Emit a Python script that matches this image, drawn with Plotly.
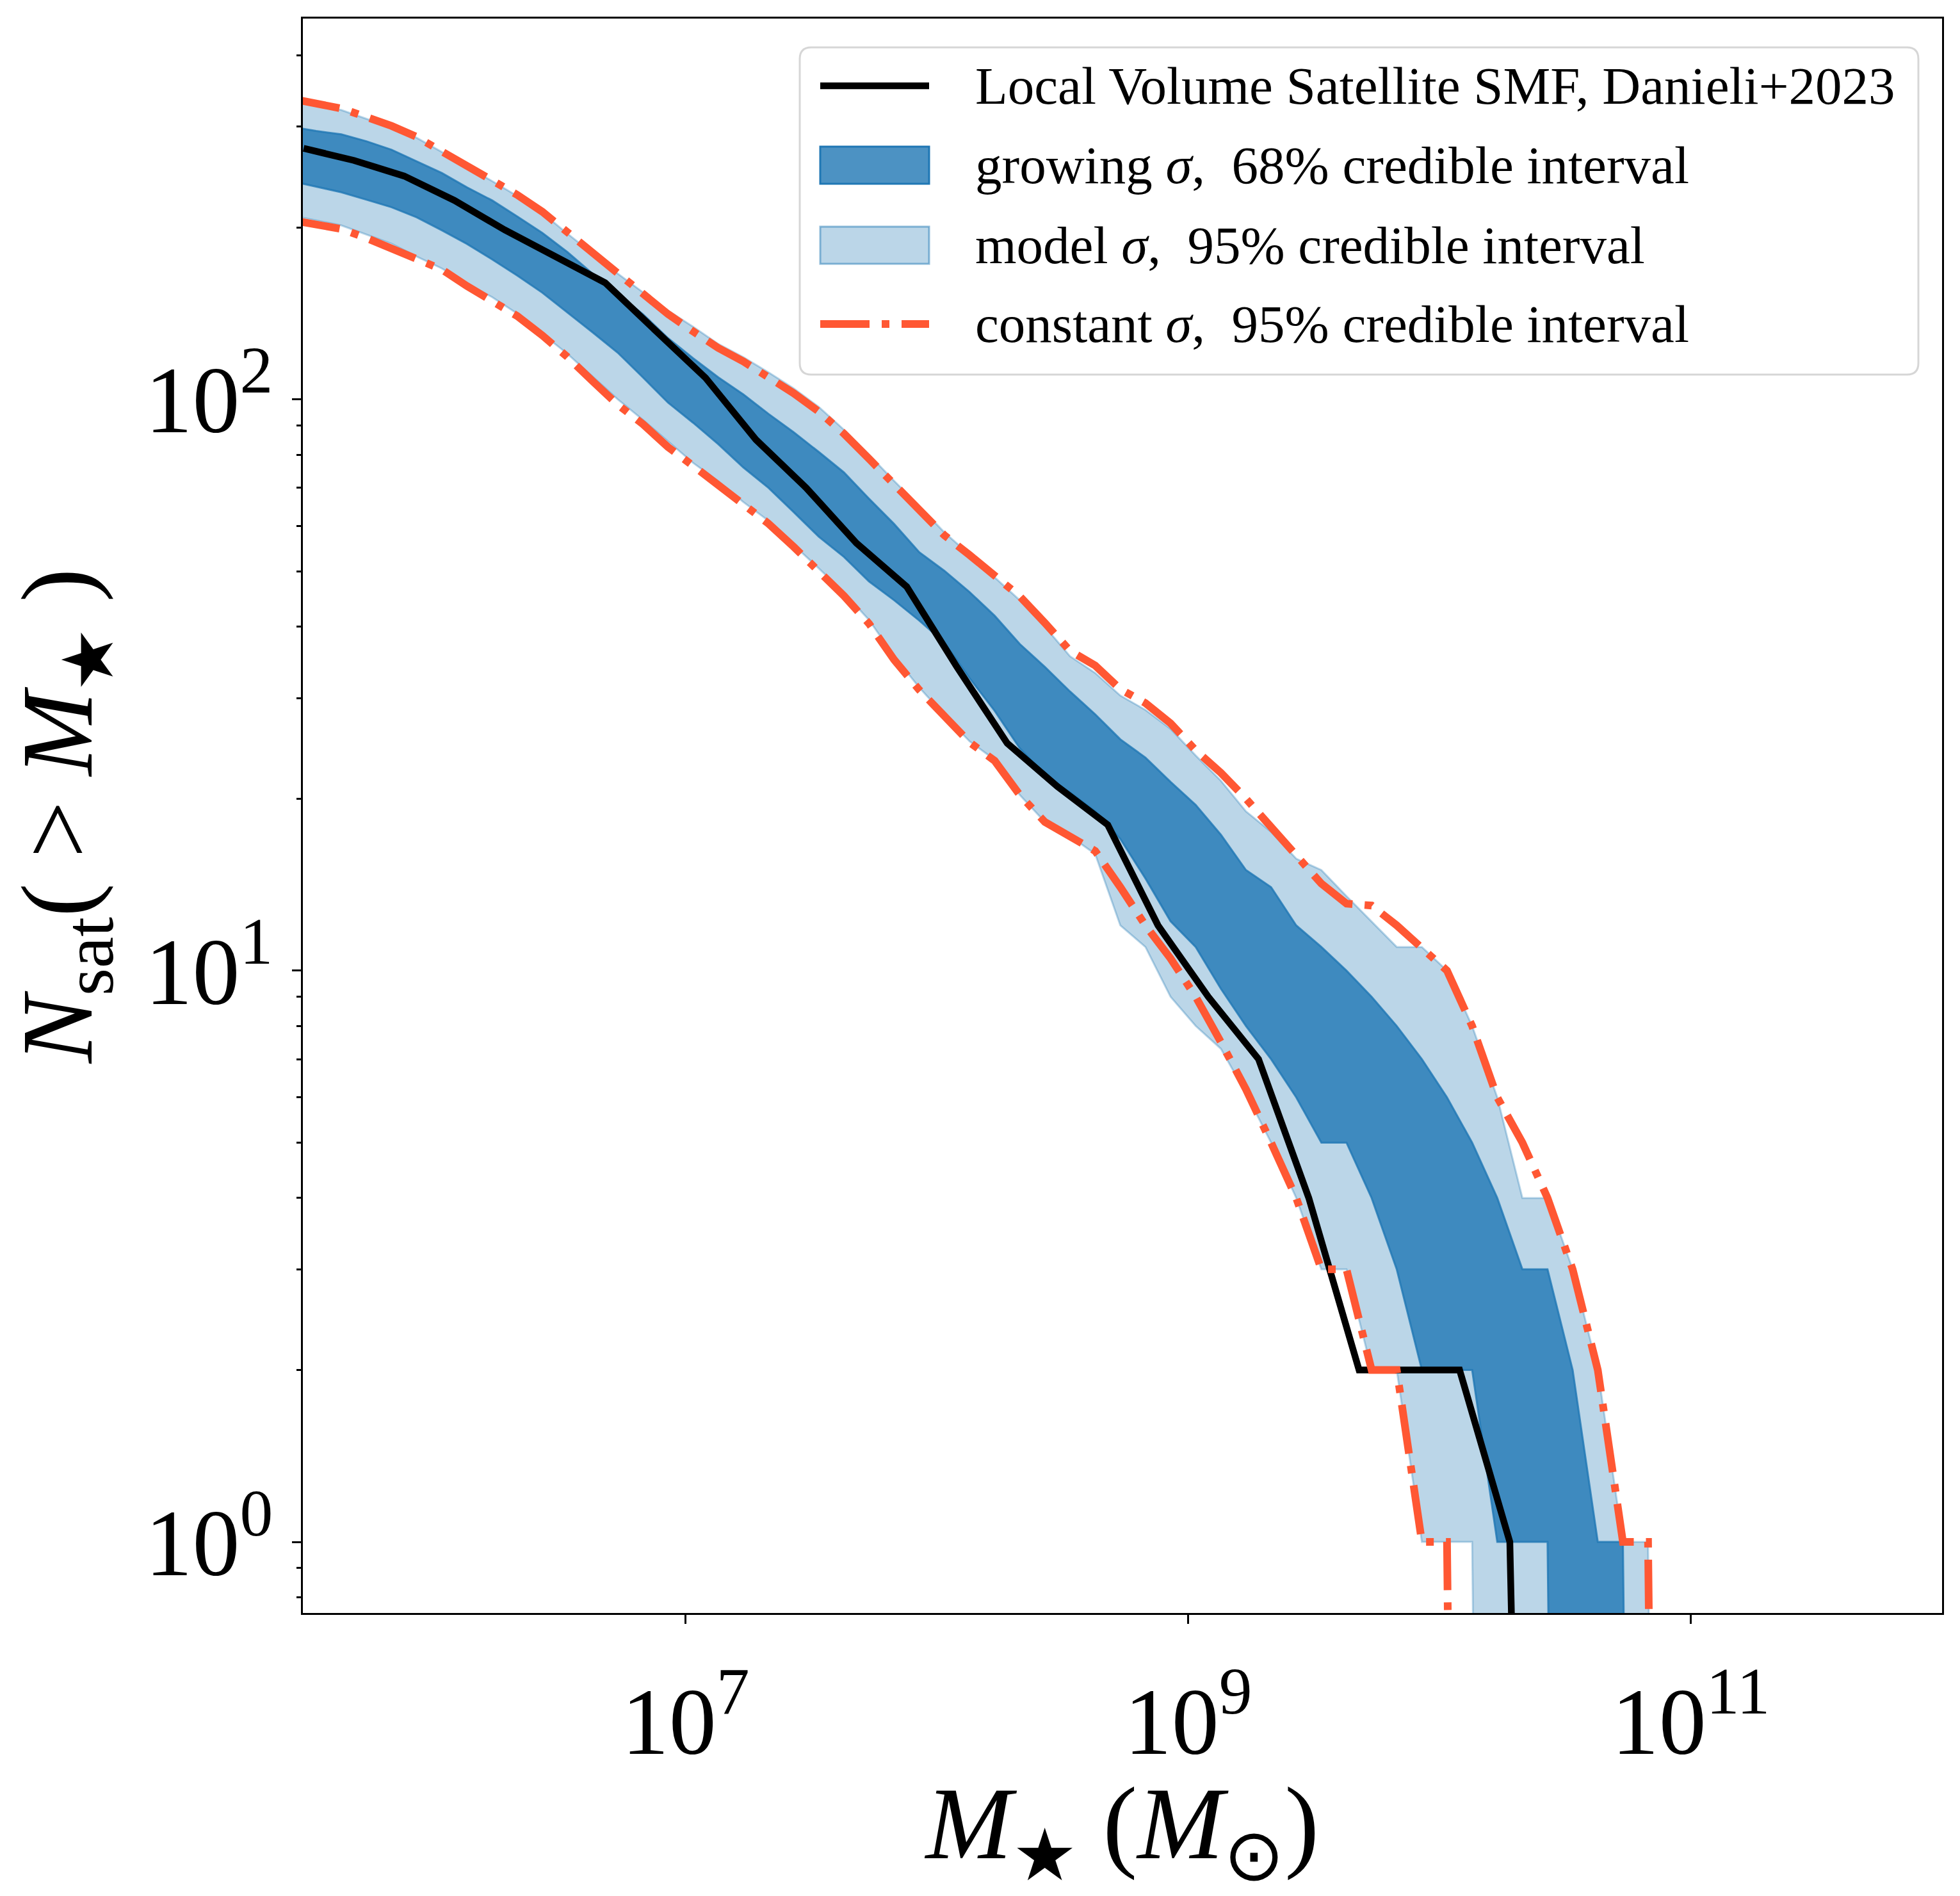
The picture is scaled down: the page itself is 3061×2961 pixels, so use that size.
import numpy as np
import plotly.graph_objects as go

# ---- data ---------------------------------------------------------------
# log10(M*/Msun) grid of the posterior bands (0.1 dex)
LOGM_BAND = [5.43, 5.53, 5.63, 5.73, 5.83, 5.93, 6.03, 6.13, 6.23, 6.33,
             6.43, 6.53, 6.63, 6.73, 6.83, 6.93, 7.03, 7.13, 7.23, 7.33,
             7.43, 7.53, 7.63, 7.73, 7.83, 7.93, 8.03, 8.13, 8.23, 8.33,
             8.43, 8.53, 8.63, 8.73, 8.83, 8.93, 9.03, 9.13, 9.23, 9.33,
             9.43, 9.53, 9.63, 9.73, 9.83, 9.93, 10.03, 10.13, 10.23, 10.33,
             10.43, 10.53, 10.63, 10.73, 10.83, 10.93]

# growing sigma, 68% interval
GROW68_HI = [300, 295, 291, 283, 273.5, 261, 249, 235, 223, 209,
             195.6, 181, 166, 153, 141, 128, 118, 109.3, 102, 94.3,
             87.6, 80.9, 74.5, 67, 60.5, 54, 50.1, 46, 41.8, 37.3,
             34, 30.8, 28.1, 25.4, 23.6, 21.4, 19.5, 17.3, 15, 14,
             12, 11, 10, 9, 8, 7, 6, 5, 4, 3,
             3, 2, 1, 1, 0, 0]
GROW68_LO = [241, 235.7, 230.4, 223.6, 216.9, 208.3, 197.7, 187.1, 175.8, 164.7,
             153.7, 142, 131, 120.7, 109.3, 98.7, 91, 83.5, 76, 70,
             63.5, 57.5, 53, 48, 44.5, 41, 37.5, 32.5, 28.5, 24.5,
             22, 20.5, 19, 17, 14.5, 12.2, 11, 9.3, 8, 7,
             6, 5, 5, 4, 3, 2, 2, 2, 1, 1,
             1, 0, 0, 0, 0, 0]

# model sigma, 95% interval
MODEL95_HI = [334, 327, 321, 310, 299, 287, 271, 256, 241, 227,
              212, 195, 180, 166, 154, 143, 134, 125, 118.5, 111.5,
              104.5, 97, 88.5, 80, 72, 65, 58.5, 53.5, 48.8, 44.5,
              40, 35.5, 33.2, 30.3, 28.6, 26.5, 23.8, 21.5, 19, 17.5,
              15.7, 15, 13.5, 12.2, 11, 11, 10, 8, 6, 4,
              4, 3, 2, 1, 1, 0]
MODEL95_LO = [210, 205.7, 201.6, 194.4, 187.3, 177.8, 169.5, 159.4, 151, 141.3,
              130.2, 120.1, 109.6, 100, 92.1, 84.5, 77.4, 71.9, 66.1, 61.3,
              55.6, 50.6, 45.9, 41.1, 35.5, 31.3, 28, 25.2, 23.4, 20.3,
              18.2, 17.2, 16, 12, 11, 9, 8, 7.3, 6.1, 5,
              4, 3, 3, 2, 2, 1, 1, 1, 0, 0,
              0, 0, 0, 0, 0, 0]

# constant sigma, 95% interval
CONST95_HI = [336, 329, 323, 312, 301, 288, 272, 257, 242, 228,
              213, 196, 180, 166, 152, 141, 131.5, 123, 116.5, 109.5,
              102.5, 95.2, 87.1, 78.7, 71, 64.3, 57.8, 53.4, 49.3, 45.2,
              40.6, 36.3, 34.2, 31.1, 29.4, 27.1, 24.3, 22.2, 20, 17.8,
              15.8, 14.2, 13.1, 13, 12, 11, 10, 8, 6, 5,
              4, 3, 2, 1, 1, 0]
CONST95_LO = [206, 203, 198.7, 191.6, 184.1, 176.4, 168.8, 157.9, 148.3, 139.9,
              129.4, 118.6, 107.6, 97.9, 90.5, 82.5, 76.5, 71, 65.5, 60.6,
              55.2, 50.2, 45.3, 40.5, 35, 31, 27.8, 25.1, 23.3, 20.3,
              18.2, 17.2, 16.2, 14, 12, 10.5, 9, 7.5, 6.2, 5,
              4, 3, 3, 2, 2, 1, 1, 0, 0, 0,
              0, 0, 0, 0, 0, 0]

# Local Volume satellite SMF (Danieli+2023), cumulative counts
LOGM_LV = [5.48, 5.68, 5.88, 6.08, 6.28, 6.48, 6.68, 6.88, 7.08, 7.28,
           7.48, 7.68, 7.88, 8.08, 8.28, 8.48, 8.68, 8.88, 9.08, 9.28,
           9.48, 9.68, 9.88, 10.08, 10.28, 10.48]
N_LV = [275, 262, 246, 223, 198, 178, 160, 132, 109, 85,
        70, 56, 47, 34, 25, 21, 18, 12, 9, 7,
        4, 2, 2, 2, 1, 0]

X_TICKS = [1e7, 1e9, 1e11]
X_TICKTEXT = ["10<sup>7</sup>", "10<sup>9</sup>", "10<sup>11</sup>"]
Y_TICKS = [1, 10, 100]
Y_TICKTEXT = ["10<sup>0</sup>", "10<sup>1</sup>", "10<sup>2</sup>"]
Y_MINOR = [0.8, 0.9, 2, 3, 4, 5, 6, 7, 8, 9, 20, 30, 40, 50, 60, 70, 80, 90,
           200, 300, 400]

LABEL_LV = "Local Volume Satellite SMF, Danieli+2023"
LABEL_GROW = "growing <i>σ</i>,  68% credible interval"
LABEL_MODEL = "model <i>σ</i>,  95% credible interval"
LABEL_CONST = "constant <i>σ</i>,  95% credible interval"

# zero counts can't sit on a log axis; push them far below the frame
FLOOR = 1e-4


def clip0(vals):
    v = np.asarray(vals, dtype=float)
    return np.where(v > 0, v, FLOOR)


mband = 10 ** np.asarray(LOGM_BAND)
mlv = 10 ** np.asarray(LOGM_LV)

C0 = "31,119,180"
RED = "#FF5733"
RED_DASH = "77px,19px,12px,19px"
FONT = "Liberation Serif, Times New Roman, serif"

W, H = 3061, 2961
ML, MR, MT, MB = 473, 28, 29, 442
PW, PH = W - ML - MR, H - MT - MB


def band(lo, hi, name, alpha):
    x = np.concatenate([mband, mband[::-1]])
    y = np.concatenate([clip0(hi), clip0(lo)[::-1]])
    return go.Scatter(
        x=x, y=y, fill="toself", mode="lines", name=name,
        fillcolor=f"rgba({C0},{alpha})",
        line=dict(color=f"rgba({C0},{alpha})", width=3),
        hoverinfo="skip", showlegend=False,
    )


fig = go.Figure()
fig.add_trace(band(MODEL95_LO, MODEL95_HI, LABEL_MODEL, 0.3))
fig.add_trace(band(GROW68_LO, GROW68_HI, LABEL_GROW, 0.8))
fig.add_trace(go.Scatter(
    x=mlv, y=clip0(N_LV), mode="lines", name=LABEL_LV, showlegend=False,
    line=dict(color="black", width=10.5),
))
for hi_lo in (CONST95_HI, CONST95_LO):
    fig.add_trace(go.Scatter(
        x=mband, y=clip0(hi_lo), mode="lines", name=LABEL_CONST,
        showlegend=False, line=dict(color=RED, width=12, dash=RED_DASH),
    ))


# ---- legend drawn by hand so the band entries get patch symbols ----------
def px(ax):
    return (ax - ML) / PW


def py(ay):
    return 1 - (ay - MT) / PH


def rounded_box(x0, y0, x1, y1, r):
    # pixel coords -> paper path with rounded corners
    p = [
        f"M{px(x0 + r)},{py(y0)}", f"L{px(x1 - r)},{py(y0)}",
        f"Q{px(x1)},{py(y0)} {px(x1)},{py(y0 + r)}",
        f"L{px(x1)},{py(y1 - r)}",
        f"Q{px(x1)},{py(y1)} {px(x1 - r)},{py(y1)}",
        f"L{px(x0 + r)},{py(y1)}",
        f"Q{px(x0)},{py(y1)} {px(x0)},{py(y1 - r)}",
        f"L{px(x0)},{py(y0 + r)}",
        f"Q{px(x0)},{py(y0)} {px(x0 + r)},{py(y0)}", "Z",
    ]
    return " ".join(p)


shapes = [dict(
    type="path", xref="paper", yref="paper", layer="above",
    path=rounded_box(1249, 74, 2996, 585, 18),
    fillcolor="rgba(255,255,255,0.8)",
    line=dict(color="rgba(204,204,204,0.8)", width=3),
)]
rows = [134, 258, 383, 506]
sx0, sx1 = 1281, 1451
shapes.append(dict(type="line", xref="paper", yref="paper", layer="above",
                   x0=px(sx0), x1=px(sx1), y0=py(rows[0]), y1=py(rows[0]),
                   line=dict(color="black", width=10.5)))
for ry, alpha in ((rows[1], 0.8), (rows[2], 0.3)):
    shapes.append(dict(type="rect", xref="paper", yref="paper", layer="above",
                       x0=px(sx0), x1=px(sx1), y0=py(ry - 29), y1=py(ry + 29),
                       fillcolor=f"rgba({C0},{alpha})",
                       line=dict(color=f"rgba({C0},{min(1, alpha + 0.2)})",
                                 width=3)))
shapes.append(dict(type="line", xref="paper", yref="paper", layer="above",
                   x0=px(sx0), x1=px(sx1), y0=py(rows[3]), y1=py(rows[3]),
                   line=dict(color=RED, width=12, dash=RED_DASH)))

annotations = [
    dict(text=t, x=px(1521), y=py(ry), xref="paper", yref="paper",
         xanchor="left", yanchor="middle", showarrow=False,
         font=dict(family=FONT, size=83, color="black"))
    for t, ry in zip([LABEL_LV, LABEL_GROW, LABEL_MODEL, LABEL_CONST], rows)
]

axis_common = dict(
    type="log",
    showline=True, mirror=True, linecolor="black", linewidth=3,
    ticks="outside", ticklen=14, tickwidth=3, tickcolor="black",
    showgrid=False, zeroline=False,
    tickfont=dict(family=FONT, size=148, color="black"),
)

fig.update_xaxes(
    **axis_common,
    range=[np.log10(3e5), 12.0],
    tickvals=X_TICKS, ticktext=X_TICKTEXT,
    ticklabelstandoff=25,
    title=dict(text="<i>M</i><sub>★</sub> (<i>M</i><sub>⊙</sub>)",
               font=dict(family=FONT, size=162, color="black"), standoff=17),
)
fig.update_yaxes(
    **axis_common,
    range=[np.log10(0.751), np.log10(464)],
    tickvals=Y_TICKS, ticktext=Y_TICKTEXT,
    minor=dict(tickvals=Y_MINOR, ticks="outside", ticklen=7, tickwidth=2.5,
               tickcolor="black", showgrid=False),
    title=dict(text="<i>N</i><sub>sat</sub>( > <i>M</i><sub>★</sub> )",
               font=dict(family=FONT, size=158, color="black"), standoff=30),
)

fig.update_layout(
    width=W, height=H,
    margin=dict(l=ML, r=MR, t=MT, b=MB, autoexpand=False),
    paper_bgcolor="white", plot_bgcolor="white",
    showlegend=False,
    shapes=shapes, annotations=annotations,
)

fig.write_html("out.html", config={"displayModeBar": False},
               post_script="document.body.style.margin='0';")
